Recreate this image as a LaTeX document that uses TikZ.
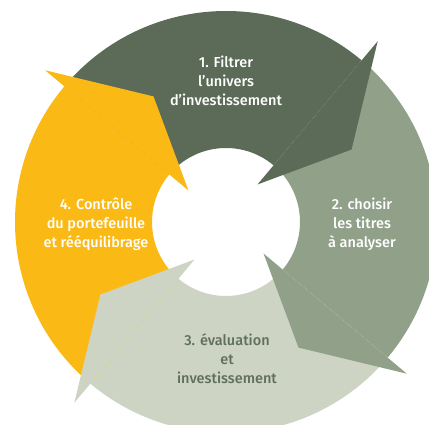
\documentclass[tikz,border=0pt]{standalone}
\usepackage{fontspec}
\setmainfont{Fira Sans}[UprightFont={Fira Sans Medium}]
\definecolor{filtre}{RGB}{91,107,88}
\definecolor{choix}{RGB}{145,160,136}
\definecolor{evalu}{RGB}{205,212,196}
\definecolor{controle}{RGB}{250,185,20}
\definecolor{textevalu}{RGB}{96,110,92}
\begin{document}
\begin{tikzpicture}[x=1pt,y=1pt,
        etape/.style={align=center, font=\fontsize{14.5}{19}\selectfont, text=white}]
        \useasboundingbox (-226,-203) rectangle (203,222);
        \clip (-226,-203) rectangle (203,222);
        % anneau
        \foreach \a/\c in {140/filtre, 50/choix, -40/evalu, -130/controle}
            \fill[\c] (\a:211) arc[start angle=\a, end angle=\a-90, radius=211] -- (\a-90:74) arc[start angle=\a-90, end angle=\a, radius=74] -- cycle;
        % pointes
        \foreach \a/\c in {50/filtre, -40/choix, -130/evalu, 140/controle}
            \fill[\c] (\a:49) -- (\a:236) -- (\a-20:145) -- cycle;
        \node[etape] (filtrer) at (0,141) {1. Filtrer\\l’univers\\d’investissement};
        \node[etape] (choisir) at (136,-2) {2. choisir\\les titres\\à analyser};
        \node[etape, text=textevalu] (evaluer) at (1,-137) {3. évaluation\\et\\investissement};
        \node[etape] (controler) at (-130,-2) {4. Contrôle\\du portefeuille\\et rééquilibrage};
\end{tikzpicture}
\end{document}
